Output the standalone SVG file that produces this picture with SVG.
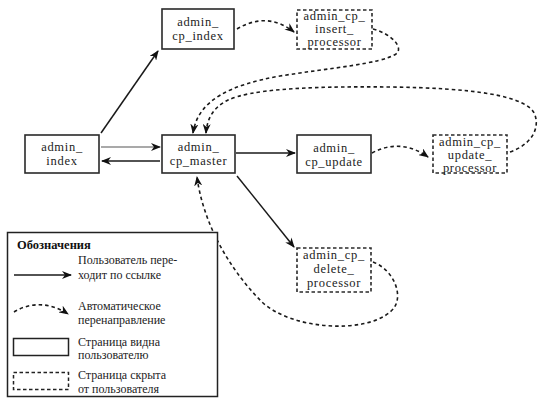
<svg xmlns="http://www.w3.org/2000/svg" width="560" height="407" viewBox="0 0 560 407">
<style>
.bg{fill:#fff}
.box{fill:#fff;stroke:#2a2a2a;stroke-width:1.6}
.hid{fill:#fff;stroke:#2a2a2a;stroke-width:1.6;stroke-dasharray:3.5 2.5}
.t{font-family:"Liberation Serif","DejaVu Serif",serif;font-size:12.5px;letter-spacing:0.7px;fill:#222;text-anchor:middle}
.lt{font-family:"Liberation Serif","DejaVu Serif",serif;font-size:12px;fill:#222}
.lb{font-family:"Liberation Serif","DejaVu Serif",serif;font-size:12.5px;font-weight:bold;fill:#111}
.sol{fill:none;stroke:#1a1a1a;stroke-width:1.5;marker-end:url(#ah)}
.thin{fill:none;stroke:#555;stroke-width:1.1;marker-end:url(#ah)}
.dsh{fill:none;stroke:#1a1a1a;stroke-width:1.6;stroke-dasharray:3.5 3;marker-end:url(#ah)}
</style>
<defs>
<marker id="ah" viewBox="0 0 10 8" refX="9" refY="4" markerWidth="10" markerHeight="8" markerUnits="userSpaceOnUse" orient="auto">
<path d="M0,0 L10,4 L0,8 L3,4 z" fill="#111"/>
</marker>
</defs>
<rect class="bg" x="0" y="0" width="560" height="407"/>

<g id="connectors">
<path class="sol" d="M101,133 L158,51"/>
<path class="thin" d="M101,147 L160,147"/>
<path class="sol" d="M160,161 L102,161"/>
<path class="sol" d="M236,153 L295,153"/>
<path class="sol" d="M237,176 L294,247"/>
<path class="dsh" d="M237,29 C255,18 275,17 294,32"/>
<path class="dsh" d="M373,29 C392,34 404,48 396,54 C380,64 330,68 280,76 C230,85 198,100 193,133"/>
<path class="dsh" d="M510,152 C530,145 540,130 535,115 C528,95 470,88 390,87 C300,86 250,90 228,100 C212,108 207,120 206,133"/>
<path class="dsh" d="M372,153 C390,143 410,144 428,157"/>
<path class="dsh" d="M373,262 C395,270 406,300 390,312 C365,334 292,330 262,302 C228,268 203,222 197,177"/>
</g>

<g id="admin_cp_index">
<rect class="box" x="162" y="9" width="72" height="40"/>
<text class="t" x="198" y="26">admin_</text>
<text class="t" x="198" y="40">cp_index</text>
</g>
<g id="admin_cp_insert_processor">
<rect class="hid" x="297" y="10" width="75" height="39"/>
<text class="t" x="334.5" y="20">admin_cp_</text>
<text class="t" x="334.5" y="33">insert_</text>
<text class="t" x="334.5" y="46">processor</text>
</g>
<g id="admin_index">
<rect class="box" x="25" y="135" width="74" height="38"/>
<text class="t" x="62" y="151">admin_</text>
<text class="t" x="62" y="165">index</text>
</g>
<g id="admin_cp_master">
<rect class="box" x="162" y="135" width="73" height="38"/>
<text class="t" x="198.5" y="151">admin_</text>
<text class="t" x="198.5" y="165">cp_master</text>
</g>
<g id="admin_cp_update">
<rect class="box" x="297" y="135" width="74" height="38"/>
<text class="t" x="334" y="152">admin_</text>
<text class="t" x="334" y="166">cp_update</text>
</g>
<g id="admin_cp_update_processor">
<rect class="hid" x="433" y="135" width="74" height="38"/>
<text class="t" x="470" y="146">admin_cp_</text>
<text class="t" x="470" y="159">update_</text>
<text class="t" x="470" y="172">processor</text>
</g>
<g id="admin_cp_delete_processor">
<rect class="hid" x="297" y="248" width="74" height="44"/>
<text class="t" x="334" y="259">admin_cp_</text>
<text class="t" x="334" y="273">delete_</text>
<text class="t" x="334" y="287">processor</text>
</g>

<g id="legend">
<rect x="7.5" y="232.5" width="210" height="164" fill="#fff" stroke="#222" stroke-width="1.5"/>
<text class="lb" x="17" y="249">Обозначения</text>
<path class="sol" d="M14,275 L71,275"/>
<text class="lt" x="78" y="264">Пользователь пере-</text>
<text class="lt" x="78" y="279">ходит по ссылке</text>
<path class="dsh" d="M14,312 C30,302 50,302 68,314"/>
<text class="lt" x="78" y="310">Автоматическое</text>
<text class="lt" x="78" y="324">перенаправление</text>
<rect x="13.5" y="338.5" width="55" height="17" fill="#fff" stroke="#222" stroke-width="1.5"/>
<text class="lt" x="78" y="346">Страница видна</text>
<text class="lt" x="78" y="359">пользователю</text>
<rect x="13.5" y="372.5" width="55" height="17" fill="none" stroke="#222" stroke-width="1.5" stroke-dasharray="3.5 2.5"/>
<text class="lt" x="78" y="379">Страница скрыта</text>
<text class="lt" x="78" y="393">от пользователя</text>
</g>
</svg>
